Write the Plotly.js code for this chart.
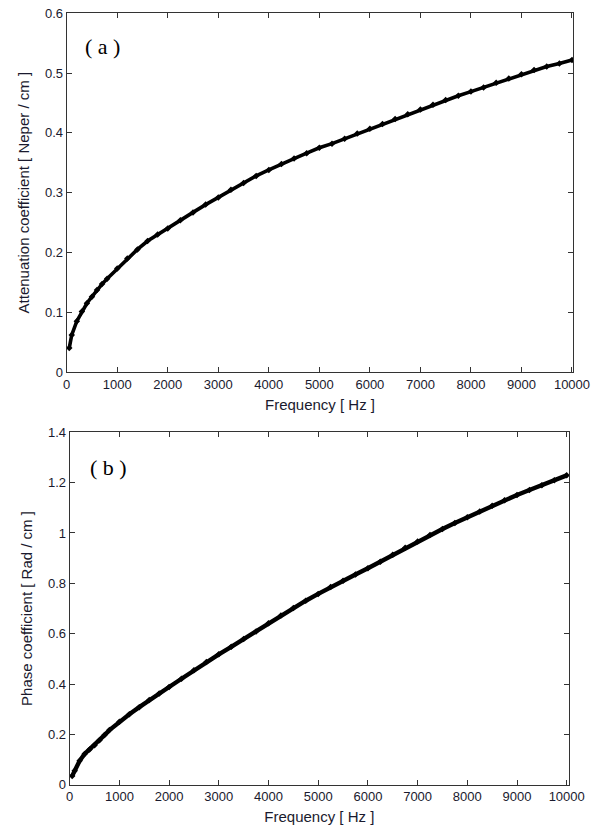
<!DOCTYPE html>
<html>
<head>
<meta charset="utf-8">
<script src="https://cdn.plot.ly/plotly-3.0.1.min.js"></script>
<style>
html,body{margin:0;padding:0;background:#fff;}
#chart{width:602px;height:830px;}
</style>
</head>
<body>
<div id="chart"></div>
<script>
// Frequency samples [Hz]
const freqA = [50,100,200,300,400,500,600,700,800,1000,1200,1400,1600,1800,2000,2250,2500,2750,3000,3250,3500,3750,4000,4250,4500,4750,5000,5250,5500,5750,6000,6250,6500,6750,7000,7250,7500,7750,8000,8250,8500,8750,9000,9250,9500,9750,10000];
// (a) Attenuation coefficient [Neper/cm]
const attenuation = [0.040,0.062,0.085,0.101,0.115,0.126,0.137,0.147,0.156,0.173,0.190,0.205,0.219,0.230,0.240,0.254,0.267,0.280,0.292,0.305,0.316,0.328,0.338,0.348,0.357,0.366,0.375,0.382,0.390,0.399,0.407,0.415,0.423,0.431,0.439,0.447,0.455,0.462,0.469,0.476,0.484,0.491,0.498,0.505,0.511,0.516,0.522];
const freqB = [50,100,200,300,400,500,600,700,800,1000,1200,1400,1600,1800,2000,2250,2500,2750,3000,3250,3500,3750,4000,4250,4500,4750,5000,5250,5500,5750,6000,6250,6500,6750,7000,7250,7500,7750,8000,8250,8500,8750,9000,9250,9500,9750,10000];
// (b) Phase coefficient [Rad/cm]
const phase = [0.035,0.055,0.095,0.122,0.140,0.157,0.177,0.197,0.217,0.250,0.280,0.308,0.336,0.362,0.388,0.421,0.455,0.487,0.518,0.548,0.579,0.609,0.641,0.672,0.702,0.731,0.758,0.785,0.810,0.835,0.860,0.886,0.914,0.941,0.966,0.992,1.016,1.040,1.063,1.085,1.108,1.130,1.151,1.171,1.190,1.210,1.229];

const xTicks = [0,1000,2000,3000,4000,5000,6000,7000,8000,9000,10000];
const yTicksA = [0,0.1,0.2,0.3,0.4,0.5,0.6];
const yTicksB = [0,0.2,0.4,0.6,0.8,1,1.2,1.4];

const W = 602, H = 830;
const tickFont = {family: '"Liberation Sans", Arial, sans-serif', size: 13, color: '#1a1a2e'};
const titleFont = {family: '"Liberation Sans", Arial, sans-serif', size: 15, color: '#1a1a2e'};

function axisCommon(extra) {
  return Object.assign({
    showgrid: false, zeroline: false,
    showline: true, linecolor: '#333', linewidth: 1, mirror: 'ticks',
    ticks: 'inside', ticklen: 5, tickwidth: 1, tickcolor: '#333',
    tickfont: tickFont, fixedrange: true
  }, extra);
}

const trace = (x, y, xa, ya, w) => ({
  x: x, y: y, xaxis: xa, yaxis: ya, type: 'scatter', mode: 'lines+markers',
  line: {color: '#000', width: w},
  marker: {color: '#000', size: 5, symbol: 'diamond'},
  showlegend: false, hoverinfo: 'skip'
});

const data = [trace(freqA, attenuation, 'x', 'y', 3.6), trace(freqB, phase, 'x2', 'y2', 4.4)];

const layout = {
  width: W, height: H,
  margin: {l: 0, r: 0, t: 0, b: 0},
  paper_bgcolor: '#fff', plot_bgcolor: '#fff',
  xaxis: axisCommon({
    domain: [66.7/W, 573.3/W], range: [0, 10026], anchor: 'y',
    tickmode: 'array', tickvals: xTicks, ticktext: xTicks.map(String),
    title: {text: 'Frequency [ Hz ]', font: titleFont, standoff: 8}
  }),
  yaxis: axisCommon({
    domain: [1 - 372/H, 1 - 13.3/H], range: [0, 0.6], anchor: 'x',
    tickmode: 'array', tickvals: yTicksA, ticktext: yTicksA.map(String),
    title: {text: 'Attenuation coefficient [ Neper / cm ]', font: titleFont, standoff: 11}
  }),
  xaxis2: axisCommon({
    domain: [69.7/W, 569/W], range: [0, 10046], anchor: 'y2',
    tickmode: 'array', tickvals: xTicks, ticktext: xTicks.map(String),
    title: {text: 'Frequency [ Hz ]', font: titleFont, standoff: 8}
  }),
  yaxis2: axisCommon({
    domain: [1 - 784.7/H, 1 - 432.3/H], range: [0, 1.4], anchor: 'x2',
    tickmode: 'array', tickvals: yTicksB, ticktext: yTicksB.map(String),
    title: {text: 'Phase coefficient [ Rad / cm ]', font: titleFont, standoff: 11}
  }),
  annotations: [
    {text: '( a )', xref: 'paper', yref: 'paper', x: 102/W, y: 1 - 47/H, xanchor: 'center', yanchor: 'middle', showarrow: false,
     font: {family: '"Liberation Serif", "Times New Roman", serif', size: 22, color: '#000'}},
    {text: '( b )', xref: 'paper', yref: 'paper', x: 108/W, y: 1 - 467/H, xanchor: 'center', yanchor: 'middle', showarrow: false,
     font: {family: '"Liberation Serif", "Times New Roman", serif', size: 22, color: '#000'}}
  ]
};

Plotly.newPlot('chart', data, layout, {displayModeBar: false, staticPlot: true});
</script>
</body>
</html>
